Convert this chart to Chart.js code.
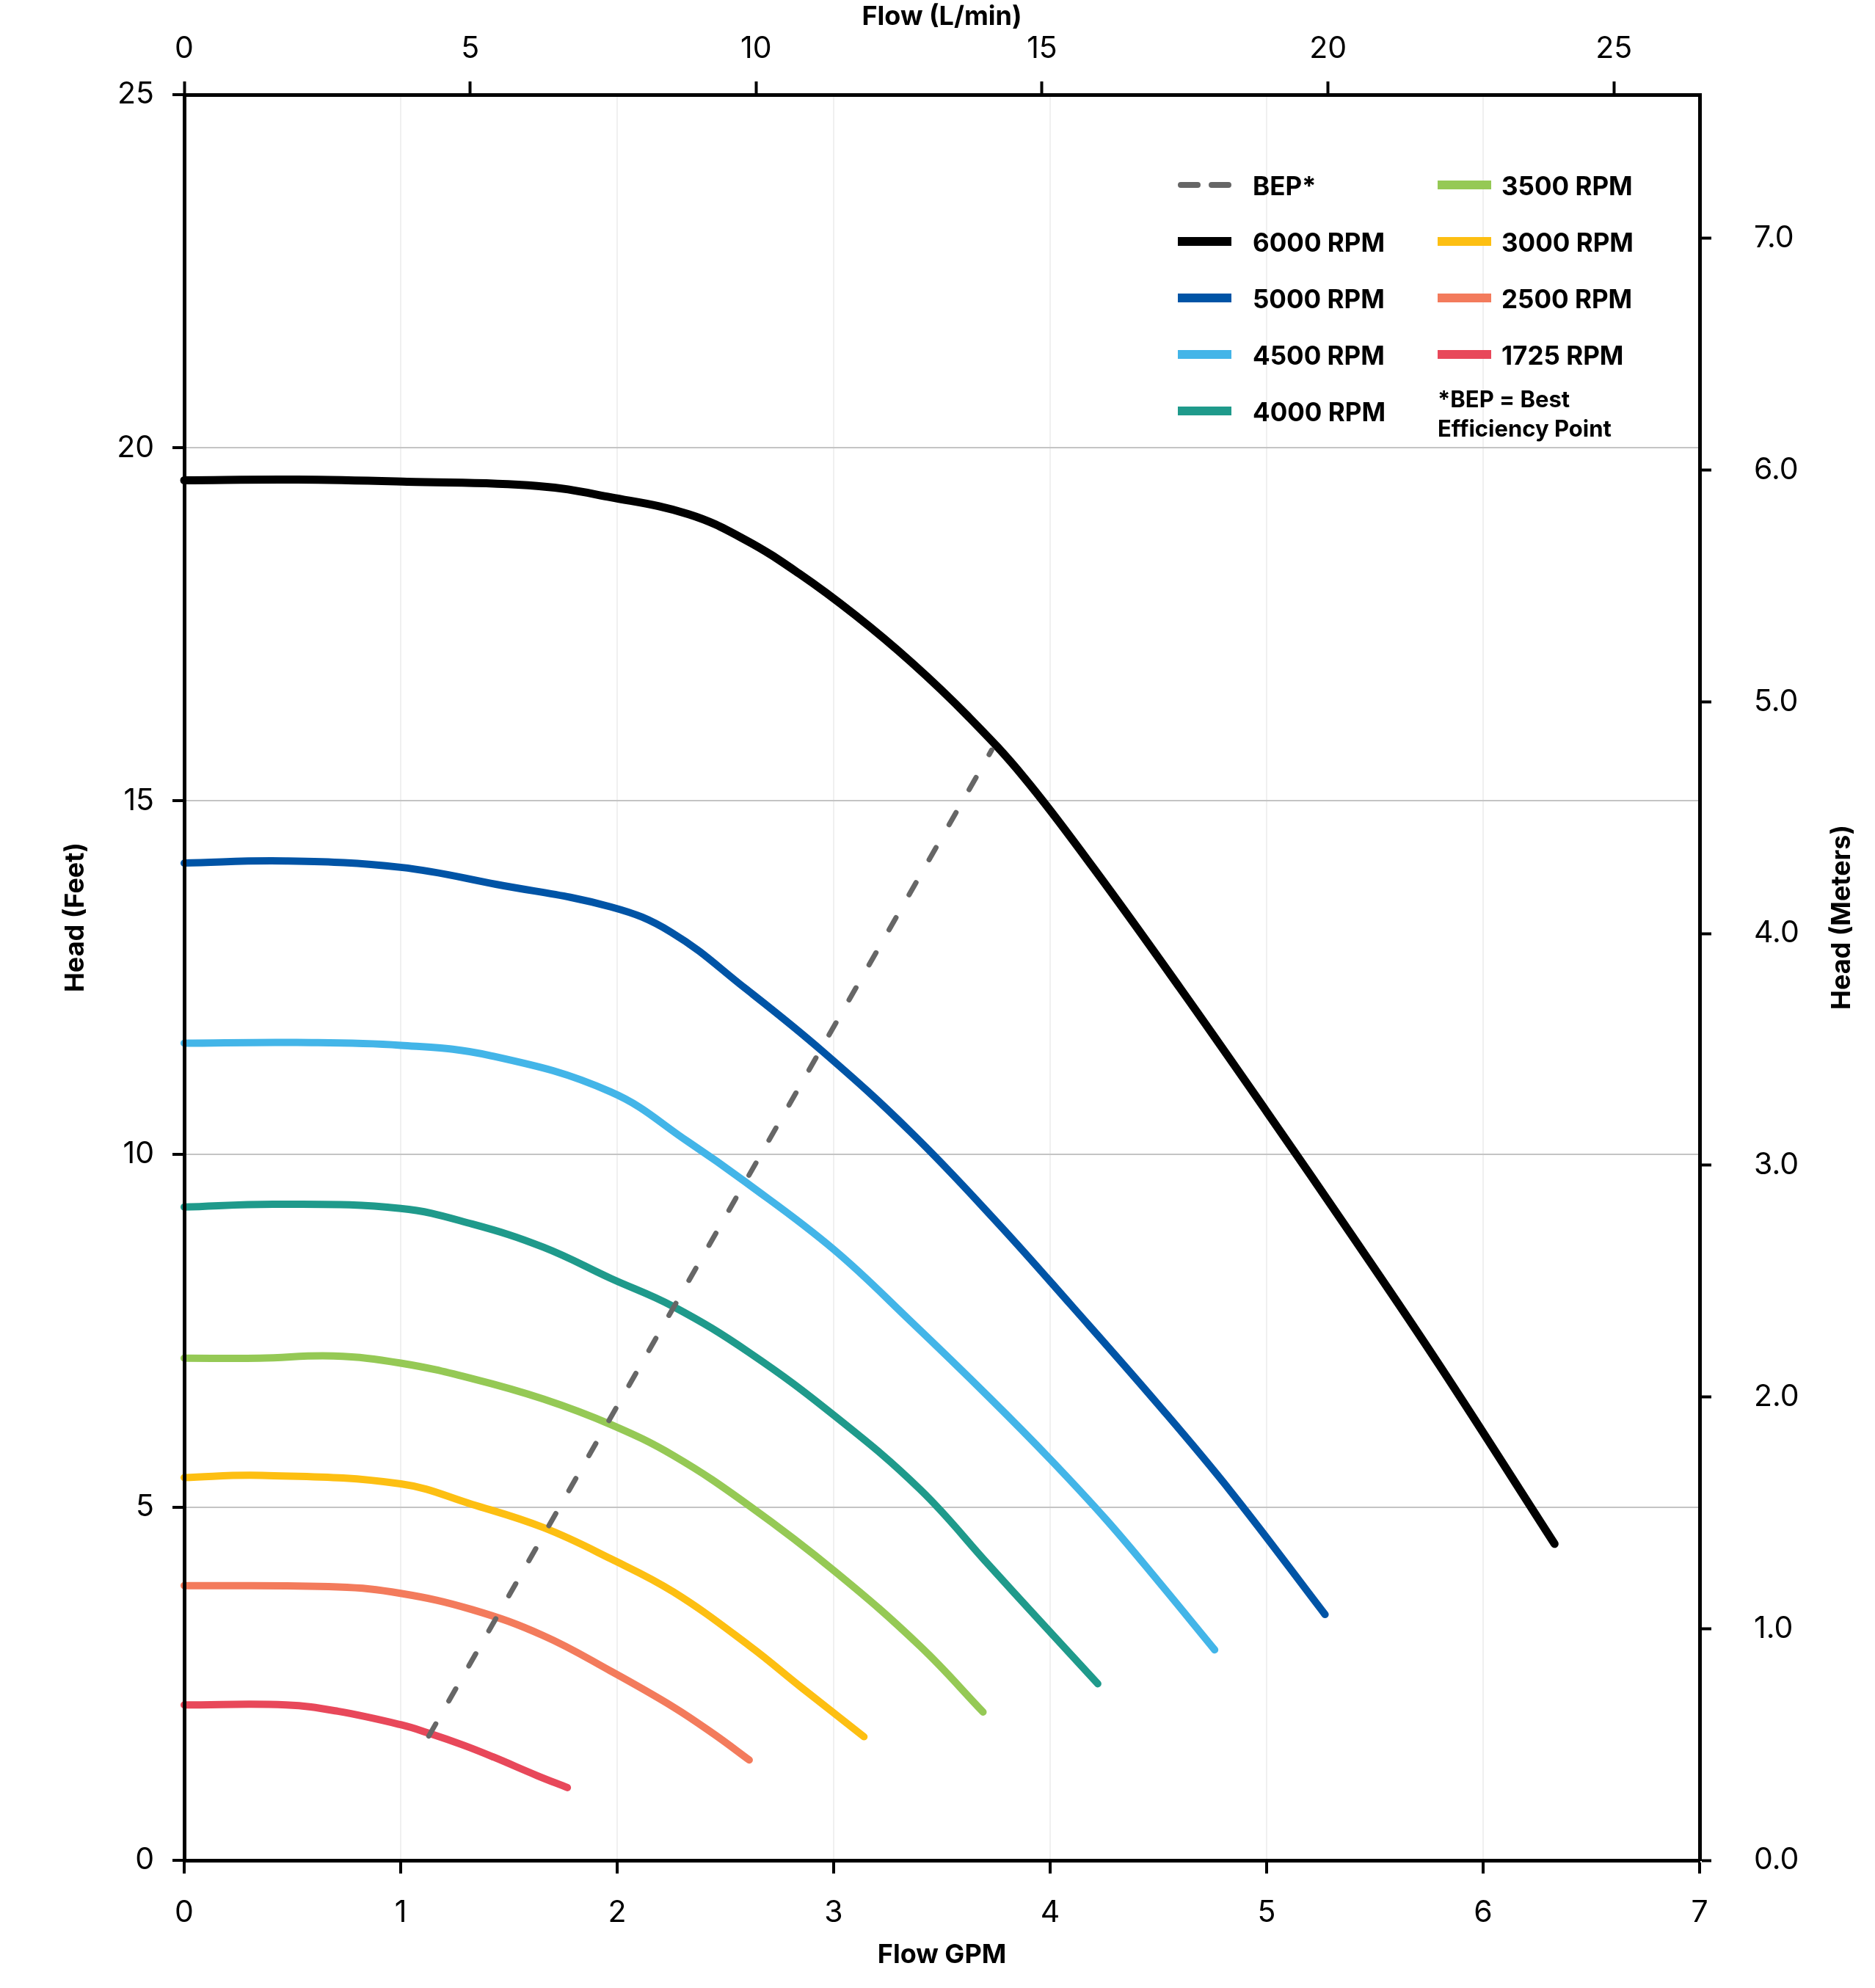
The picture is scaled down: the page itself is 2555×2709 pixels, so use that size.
<!DOCTYPE html>
<html>
<head>
<meta charset="utf-8">
<title>Pump curves</title>
<script src="https://cdn.jsdelivr.net/npm/chart.js@4.4.1/dist/chart.umd.min.js"></script>
<style>
  html, body { margin: 0; padding: 0; background: #fff; }
  canvas { display: block; }
</style>
</head>
<body>
<canvas id="pumpChart" width="2555" height="2709" style="width:2555px;height:2709px"></canvas>
<script>
// flow in GPM, head in feet
const bepFlow = [1.13, 3.73];
const bepHead = [1.76, 15.72];

const rpm6000Flow = [0, 0.52, 1.03, 1.63, 1.97, 2.33, 2.59, 2.84, 3.10, 3.36, 3.62, 3.88, 4.2, 4.6, 5.0, 5.4, 5.8, 6.33];
const rpm6000Head = [19.54, 19.55, 19.52, 19.46, 19.30, 19.06, 18.70, 18.22, 17.63, 16.96, 16.20, 15.33, 14.05, 12.35, 10.60, 8.82, 7.00, 4.48];

const rpm5000Flow = [0, 0.47, 1.0, 1.44, 1.97, 2.25, 2.59, 2.95, 3.36, 3.75, 4.1, 4.5, 4.84, 5.27];
const rpm5000Head = [14.12, 14.15, 14.06, 13.82, 13.50, 13.14, 12.35, 11.45, 10.30, 9.05, 7.85, 6.45, 5.20, 3.48];

const rpm4500Flow = [0, 0.52, 1.0, 1.42, 1.97, 2.33, 2.59, 3.0, 3.36, 3.72, 4.0, 4.26, 4.50, 4.76];
const rpm4500Head = [11.57, 11.58, 11.54, 11.39, 10.88, 10.17, 9.61, 8.65, 7.62, 6.55, 5.68, 4.82, 3.95, 2.98];

const rpm4000Flow = [0, 0.43, 1.0, 1.33, 1.66, 1.97, 2.26, 2.61, 3.01, 3.40, 3.72, 3.95, 4.22];
const rpm4000Head = [9.25, 9.29, 9.23, 9.01, 8.68, 8.24, 7.84, 7.19, 6.28, 5.25, 4.17, 3.40, 2.50];

const rpm3500Flow = [0, 0.35, 0.69, 1.0, 1.33, 1.66, 1.97, 2.26, 2.61, 3.01, 3.40, 3.69];
const rpm3500Head = [7.11, 7.11, 7.14, 7.04, 6.82, 6.53, 6.17, 5.73, 5.02, 4.08, 3.03, 2.10];

const rpm3000Flow = [0, 0.36, 1.0, 1.33, 1.66, 1.97, 2.26, 2.61, 2.85, 3.14];
const rpm3000Head = [5.42, 5.45, 5.33, 5.04, 4.71, 4.27, 3.80, 3.04, 2.45, 1.75];

const rpm2500Flow = [0, 0.71, 1.0, 1.33, 1.66, 1.97, 2.26, 2.45, 2.61];
const rpm2500Head = [3.89, 3.87, 3.78, 3.55, 3.18, 2.68, 2.17, 1.78, 1.42];

const rpm1725Flow = [0, 0.47, 0.71, 1.0, 1.13, 1.29, 1.43, 1.63, 1.77];
const rpm1725Head = [2.20, 2.20, 2.11, 1.92, 1.80, 1.63, 1.46, 1.20, 1.03];

const seriesLabels = ['BEP*', '6000 RPM', '5000 RPM', '4500 RPM', '4000 RPM', '3500 RPM', '3000 RPM', '2500 RPM', '1725 RPM'];
const seriesColors = ['#666666', '#000000', '#0054a6', '#43b5e8', '#1f9a8b', '#95c955', '#fdbf12', '#f37b5c', '#e8485a'];

const gpmTicks = [0, 1, 2, 3, 4, 5, 6, 7];
const lpmTicks = [0, 5, 10, 15, 20, 25];
const feetTicks = [0, 5, 10, 15, 20, 25];
const meterTicks = [0, 1, 2, 3, 4, 5, 6, 7];

const GPM_TO_LPM = 3.78541;
const FT_TO_M = 0.3048;

const FONT = 'Inter';

function toPoints(flow, head) {
  return flow.map((x, i) => ({ x: x, y: head[i] }));
}

const curves = [
  [bepFlow, bepHead],
  [rpm6000Flow, rpm6000Head],
  [rpm5000Flow, rpm5000Head],
  [rpm4500Flow, rpm4500Head],
  [rpm4000Flow, rpm4000Head],
  [rpm3500Flow, rpm3500Head],
  [rpm3000Flow, rpm3000Head],
  [rpm2500Flow, rpm2500Head],
  [rpm1725Flow, rpm1725Head]
];

const datasets = curves.map(([flow, head], i) => ({
  label: seriesLabels[i],
  data: toPoints(flow, head),
  borderColor: seriesColors[i],
  backgroundColor: seriesColors[i],
  borderWidth: i === 0 ? 7 : (i === 1 ? 11 : 10),
  borderDash: i === 0 ? [19, 36] : [],
  borderCapStyle: 'round',
  borderJoinStyle: 'round',
  tension: i === 0 ? 0 : 0.4,
  pointRadius: 0,
  pointHoverRadius: 0,
  fill: false,
  clip: false,
  xAxisID: 'x',
  yAxisID: 'y'
}));

function fixedTicks(values) {
  return function (scale) {
    scale.ticks = values.map(v => ({ value: v }));
  };
}

// legend in two columns + rotated side titles
const sheetDecor = {
  id: 'sheetDecor',
  afterDraw(chart) {
    const { ctx, chartArea } = chart;
    const sets = chart.data.datasets;
    ctx.save();
    ctx.textBaseline = 'middle';
    ctx.textAlign = 'left';
    ctx.fillStyle = '#000';

    sets.forEach((ds, i) => {
      const col = i < 5 ? 0 : 1;
      const row = col === 0 ? i : i - 5;
      const x0 = chartArea.left + (col === 0 ? 1354 : 1708);
      const textX = chartArea.left + (col === 0 ? 1456 : 1795);
      const y = chartArea.top + 123 + row * 77;

      ctx.strokeStyle = ds.borderColor;
      ctx.beginPath();
      if (i === 0) {
        ctx.lineWidth = 8;
        ctx.lineCap = 'round';
        ctx.setLineDash([23, 19]);
        ctx.moveTo(x0 + 4, y);
        ctx.lineTo(x0 + 69, y);
      } else {
        ctx.lineWidth = 12;
        ctx.lineCap = 'butt';
        ctx.setLineDash([]);
        ctx.moveTo(x0, y);
        ctx.lineTo(x0 + 73, y);
      }
      ctx.stroke();

      ctx.font = 'bold 35px ' + FONT;
      ctx.fillText(ds.label, textX, y + 3);
    });

    ctx.setLineDash([]);
    ctx.font = 'bold 31px ' + FONT;
    const noteX = chartArea.left + 1708;
    ctx.fillText('*BEP = Best', noteX, chartArea.top + 417);
    ctx.fillText('Efficiency Point', noteX, chartArea.top + 457);

    ctx.font = 'bold 36px ' + FONT;
    ctx.textAlign = 'center';
    [['Head (Feet)', 103], ['Head (Meters)', 2510]].forEach(([txt, cx]) => {
      ctx.save();
      ctx.translate(cx, 1250);
      ctx.rotate(-Math.PI / 2);
      ctx.fillText(txt, 0, 0);
      ctx.restore();
    });
    ctx.restore();
  }
};

const tickFont = { family: FONT, size: 41, weight: 'normal' };
const titleFont = { family: FONT, size: 36, weight: 'bold', lineHeight: 1 };

function draw() {
  Chart.defaults.color = '#000';
  Chart.defaults.font.family = FONT;

  new Chart(document.getElementById('pumpChart').getContext('2d'), {
    type: 'line',
    data: { datasets: datasets },
    plugins: [sheetDecor],
    options: {
      responsive: false,
      animation: false,
      devicePixelRatio: 1,
      layout: { padding: 0 },
      plugins: {
        legend: { display: false },
        tooltip: { enabled: false },
        title: { display: false }
      },
      scales: {
        x: {
          type: 'linear',
          position: 'bottom',
          min: 0,
          max: 7,
          afterBuildTicks: fixedTicks(gpmTicks),
          afterFit: (s) => { s.height = 174; },
          ticks: { font: tickFont, padding: 29, maxRotation: 0 },
          grid: { color: '#f0f0f0', lineWidth: 2, tickColor: '#000', tickWidth: 4, tickLength: 18 },
          border: { color: '#000', width: 5, z: 1 },
          title: { display: true, text: 'Flow GPM', font: titleFont, padding: { top: 0, bottom: 27 } }
        },
        x2: {
          type: 'linear',
          position: 'top',
          min: 0,
          max: 7 * GPM_TO_LPM,
          afterBuildTicks: fixedTicks(lpmTicks),
          afterFit: (s) => { s.height = 129; },
          ticks: { font: tickFont, padding: 20, maxRotation: 0 },
          grid: { drawOnChartArea: false, tickColor: '#000', tickWidth: 4, tickLength: 18 },
          border: { color: '#000', width: 5, z: 1 },
          title: { display: true, text: 'Flow (L/min)', font: titleFont, padding: { top: 5, bottom: 0 } }
        },
        y: {
          type: 'linear',
          position: 'left',
          min: 0,
          max: 25,
          afterBuildTicks: fixedTicks(feetTicks),
          afterFit: (s) => { s.width = 251; },
          ticks: { font: tickFont, padding: 25 },
          grid: { color: '#c4c4c4', lineWidth: 2, tickColor: '#000', tickWidth: 4, tickLength: 16 },
          border: { color: '#000', width: 5, z: 1 },
          title: { display: false }
        },
        y2: {
          type: 'linear',
          position: 'right',
          min: 0,
          max: 25 * FT_TO_M,
          afterBuildTicks: fixedTicks(meterTicks),
          afterFit: (s) => { s.width = 239; },
          ticks: { font: tickFont, padding: 58, callback: (v) => Number(v).toFixed(1) },
          grid: { drawOnChartArea: false, tickColor: '#000', tickWidth: 4, tickLength: 16 },
          border: { color: '#000', width: 5, z: 1 },
          title: { display: false }
        }
      }
    }
  });
}

Promise.all([
  document.fonts.load('41px ' + FONT),
  document.fonts.load('bold 36px ' + FONT)
]).then(draw, draw);
</script>
</body>
</html>
